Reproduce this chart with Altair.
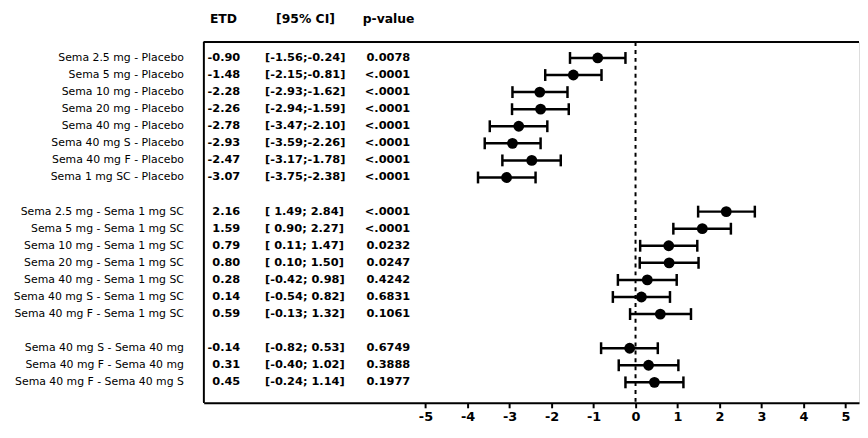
import altair as alt
import pandas as pd

labels = [
    "Sema 2.5 mg - Placebo", "Sema 5 mg - Placebo", "Sema 10 mg - Placebo",
    "Sema 20 mg - Placebo", "Sema 40 mg - Placebo", "Sema 40 mg S - Placebo",
    "Sema 40 mg F - Placebo", "Sema 1 mg SC - Placebo",
    "Sema 2.5 mg - Sema 1 mg SC", "Sema 5 mg - Sema 1 mg SC", "Sema 10 mg - Sema 1 mg SC",
    "Sema 20 mg - Sema 1 mg SC", "Sema 40 mg - Sema 1 mg SC", "Sema 40 mg S - Sema 1 mg SC",
    "Sema 40 mg F - Sema 1 mg SC",
    "Sema 40 mg S - Sema 40 mg", "Sema 40 mg F - Sema 40 mg", "Sema 40 mg F - Sema 40 mg S",
]
rows = [0, 1, 2, 3, 4, 5, 6, 7, 9, 10, 11, 12, 13, 14, 15, 17, 18, 19]
etd = [-0.90, -1.48, -2.28, -2.26, -2.78, -2.93, -2.47, -3.07,
       2.16, 1.59, 0.79, 0.80, 0.28, 0.14, 0.59,
       -0.14, 0.31, 0.45]
ci_low = [-1.56, -2.15, -2.93, -2.94, -3.47, -3.59, -3.17, -3.75,
          1.49, 0.90, 0.11, 0.10, -0.42, -0.54, -0.13,
          -0.82, -0.40, -0.24]
ci_high = [-0.24, -0.81, -1.62, -1.59, -2.10, -2.26, -1.78, -2.38,
           2.84, 2.27, 1.47, 1.50, 0.98, 0.82, 1.32,
           0.53, 1.02, 1.14]
p_values = ["0.0078", "<.0001", "<.0001", "<.0001", "<.0001", "<.0001", "<.0001", "<.0001",
            "<.0001", "<.0001", "0.0232", "0.0247", "0.4242", "0.6831", "0.1061",
            "0.6749", "0.3888", "0.1977"]
headers = ["ETD", "[95% CI]", "p-value"]
x_ticks = [-5, -4, -3, -2, -1, 0, 1, 2, 3, 4, 5]

df = pd.DataFrame({
    "label": labels, "row": rows, "etd": etd, "lo": ci_low, "hi": ci_high, "p": p_values,
})
df["etd_txt"] = [f"{v:.2f}" for v in etd]
df["ci_txt"] = [f"[{a:5.2f};{b:5.2f}]" for a, b in zip(ci_low, ci_high)]

W, H = 663, 365
xs = alt.Scale(domain=[-10.28, 5.32], nice=False, zero=False)
ys = alt.Scale(domain=[-0.93, 20.2], nice=False, zero=False, reverse=True)

base = alt.Chart(df)
X = lambda f: alt.X(f, type="quantitative", scale=xs,
                    axis=alt.Axis(values=x_ticks, title=None, grid=False,
                                  labelExpr="'' + datum.value",
                                  labelFontSize=13, labelFontWeight="bold", labelFont="DejaVu Sans",
                                  labelColor="black", tickColor="black", tickSize=5, tickWidth=2,
                                  domainColor="black", domainWidth=2, labelPadding=3))
Y = alt.Y("row:Q", scale=ys, axis=None)

zero_line = alt.Chart(pd.DataFrame({"z": [0]})).mark_rule(
    color="black", strokeDash=[4, 4], strokeWidth=2
).encode(x=X("z"))

bars = base.mark_rule(color="black", strokeWidth=2.5).encode(x=X("lo"), x2="hi", y=Y)
cap_lo = base.mark_tick(color="black", orient="vertical", size=12, thickness=2.5, opacity=1).encode(x=X("lo"), y=Y)
cap_hi = base.mark_tick(color="black", orient="vertical", size=12, thickness=2.5, opacity=1).encode(x=X("hi"), y=Y)
dots = base.mark_circle(color="black", size=120, opacity=1).encode(x=X("etd"), y=Y)

lab = base.mark_text(align="right", baseline="middle", font="DejaVu Sans", fontSize=11,
                     color="black").encode(x=alt.value(-20), y=Y, text="label")
t_etd = base.mark_text(align="right", baseline="middle", font="DejaVu Sans", fontSize=11.5,
                       fontWeight="bold", color="black").encode(x=alt.value(37), y=Y, text="etd_txt")
t_ci = base.mark_text(align="left", baseline="middle", font="DejaVu Sans", fontSize=11.5,
                      fontWeight="bold", color="black").encode(x=alt.value(62), y=Y, text="ci_txt")
t_p = base.mark_text(align="right", baseline="middle", font="DejaVu Sans", fontSize=11.5,
                     fontWeight="bold", color="black").encode(x=alt.value(209), y=Y, text="p")

hdf = pd.DataFrame({"h": headers, "hx": [20, 103, 187]})
heads = alt.Chart(hdf).mark_text(align="center", baseline="middle", font="DejaVu Sans",
                                 fontSize=12.5, fontWeight="bold", color="black").encode(
    x=alt.X("hx:Q", scale=None), y=alt.value(-23), text="h")

top_border = alt.Chart(hdf).mark_rule(color="black", strokeWidth=1.5).encode(
    x=alt.value(0), x2=alt.value(W), y=alt.value(0))
left_border = alt.Chart(hdf).mark_rule(color="black", strokeWidth=1.5).encode(
    x=alt.value(0), y=alt.value(0), y2=alt.value(H))

chart = alt.layer(
    zero_line, bars, cap_lo, cap_hi, dots, lab, t_etd, t_ci, t_p, heads, top_border, left_border
).properties(
    width=W, height=H, padding={"left": 5, "top": 3, "right": 0, "bottom": 5}
).configure_view(stroke=None).configure(background="white")

chart.save("out.html", embed_options={"renderer": "svg", "actions": False})
